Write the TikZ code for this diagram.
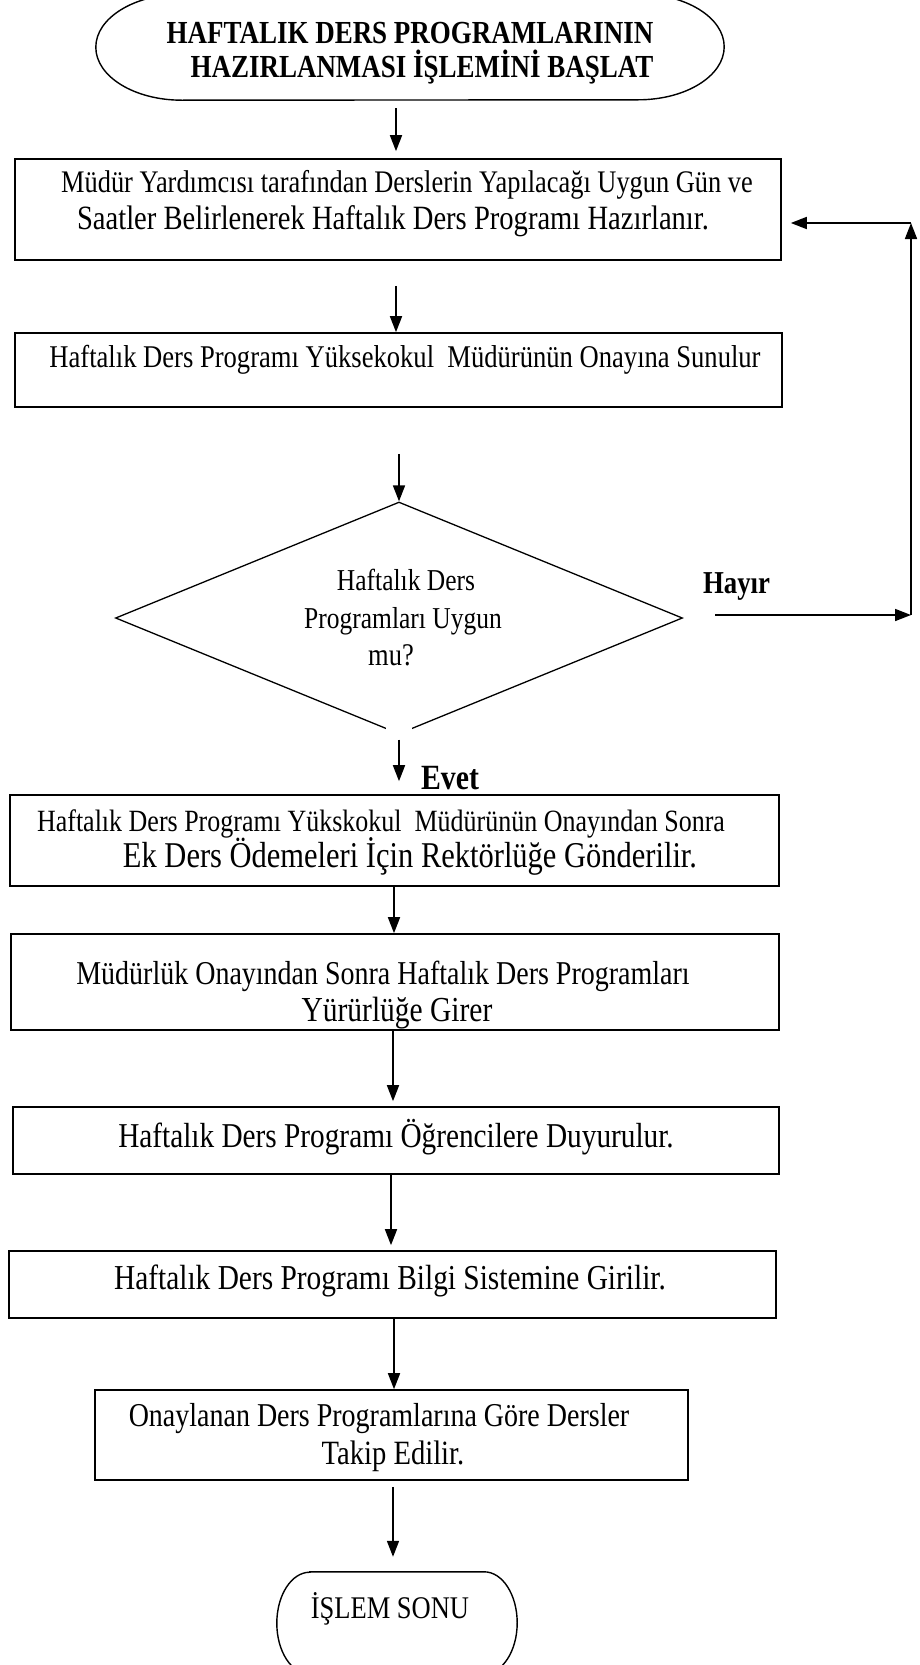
\documentclass[tikz,border=0pt]{standalone}
\usepackage{fontspec}
\setmainfont{Liberation Serif}[FakeStretch=0.84]
\usetikzlibrary{arrows.meta,shapes.geometric}
% type is set narrow and tall: size scaled up, width scaled back by FakeStretch
\newcommand\fsz[1]{\fontsize{\fpeval{#1*1.19}pt}{\fpeval{#1*1.19}pt}\selectfont}
% outline with straight top/bottom and elliptical end caps
\newcommand\capsule[3]{%
  \draw[capline] ([xshift=#2]#1.north west) -- ([xshift=-#2]#1.north east)
    arc[start angle=90,end angle=-90,x radius=#2,y radius=#3]
    -- ([xshift=#2]#1.south west)
    arc[start angle=270,end angle=90,x radius=#2,y radius=#3] -- cycle;}
\begin{document}
\begin{tikzpicture}[x=1pt,y=-1pt,
  box/.style={draw,rectangle,line width=1.6pt,inner sep=0pt},
  frame/.style={rectangle,inner sep=0pt},
  decision/.style={draw,diamond,line width=1.3pt,inner sep=0pt},
  capline/.style={line width=1.4pt},
  txt/.style={inner sep=0pt,anchor=base},
  arr/.style={line width=1.7pt,-{Triangle[length=16pt,width=12pt]}},
  link/.style={line width=1.7pt}]
\useasboundingbox (0,0) rectangle (920,1665);
\fill[white] (0,0) rectangle (920,1665);

% ---- shapes ----
\node[frame,minimum width=628pt,minimum height=106pt] (start) at (410,47) {};
\capsule{start}{86pt}{53pt}
\node[box,minimum width=766pt,minimum height=101pt] (b1) at (398,209.5) {};
\node[box,minimum width=767pt,minimum height=74pt]  (b2) at (398.5,370) {};
\node[decision,minimum width=567pt,minimum height=232pt] (dia) at (399,618) {};
\node[box,minimum width=769pt,minimum height=91pt]  (b3) at (394.5,840.5) {};
\node[box,minimum width=768pt,minimum height=96pt]  (b4) at (395,982) {};
\node[box,minimum width=766pt,minimum height=67pt]  (b5) at (396,1140.5) {};
\node[box,minimum width=767pt,minimum height=67pt]  (b6) at (392.5,1284.5) {};
\node[box,minimum width=593pt,minimum height=90pt]  (b7) at (391.5,1435) {};
\node[frame,minimum width=240pt,minimum height=102pt] (term) at (397,1623) {};
\capsule{term}{33pt}{51pt}

% ---- texts ----
\node[txt,font=\bfseries\fsz{27}] (s1) at (410,43) {HAFTALIK DERS PROGRAMLARININ};
\node[txt,font=\bfseries\fsz{27}] (s2) at (422,77) {HAZIRLANMASI İŞLEMİNİ BAŞLAT};
\node[txt,font=\fsz{26.4}] (t1a) at (407,192.5) {Müdür Yardımcısı tarafından Derslerin Yapılacağı Uygun Gün ve};
\node[txt,font=\fsz{28.6}] (t1b) at (393,229) {Saatler Belirlenerek Haftalık Ders Programı Hazırlanır.};
\node[txt,font=\fsz{26.6}] (t2) at (405,367.5) {Haftalık Ders Programı Yüksekokul\ \ Müdürünün Onayına Sunulur};
\node[txt,font=\fsz{25.5}] (q1) at (406,590) {Haftalık Ders};
\node[txt,font=\fsz{25.5}] (q2) at (403,628) {Programları Uygun};
\node[txt,font=\fsz{26.5}] (q3) at (391,665) {mu?};
\node[txt,font=\bfseries\fsz{26.8}] (no) at (736.5,593.5) {Hayır};
\node[txt,font=\bfseries\fsz{29.8}] (yes) at (450,789) {Evet};
\node[txt,font=\fsz{26}] (t3a) at (381,831) {Haftalık Ders Programı Yükskokul\ \ Müdürünün Onayından Sonra};
\node[txt,font=\fsz{30.5}] (t3b) at (410,867) {Ek Ders Ödemeleri İçin Rektörlüğe Gönderilir.};
\node[txt,font=\fsz{28}] (t4a) at (383,984) {Müdürlük Onayından Sonra Haftalık Ders Programları};
\node[txt,font=\fsz{29.5}] (t4b) at (397,1021.5) {Yürürlüğe Girer};
\node[txt,font=\fsz{29.3}] (t5) at (396,1147.5) {Haftalık Ders Programı Öğrencilere Duyurulur.};
\node[txt,font=\fsz{29.4}] (t6) at (390,1289.5) {Haftalık Ders Programı Bilgi Sistemine Girilir.};
\node[txt,font=\fsz{28}] (t7a) at (379,1426) {Onaylanan Ders Programlarına Göre Dersler};
\node[txt,font=\fsz{28.6}] (t7b) at (393,1464) {Takip Edilir.};
\node[txt,font=\fsz{26.5}] (t8) at (390,1618.5) {İŞLEM SONU};

% ---- axes of the vertical connectors ----
\coordinate (x1) at (396,0);
\coordinate (x2) at (399,0);
\coordinate (x3) at (394,0);
\coordinate (x4) at (393,0);
\coordinate (x5) at (391,0);
\coordinate (rb) at (911,615);
\coordinate (rt) at (911,223);

% ---- connectors ----
\draw[arr,shorten <=8pt,shorten >=7pt] (start.south -| x1) -- (b1.north -| x1);
\draw[arr,shorten <=25pt] (b1.south -| x1) -- (b2.north -| x1);
\draw[arr,shorten <=46pt] (b2.south -| x2) -- (dia.north -| x2);
\fill[white] (386,726) rectangle (412,742);
\draw[arr,shorten <=5pt,shorten >=13pt] (dia.south -| x2) -- (b3.north -| x2);
\draw[arr] (b3.south -| x3) -- (b4.north -| x3);
\draw[arr,shorten >=5pt] (b4.south -| x4) -- (b5.north -| x4);
\draw[arr,shorten >=5pt] (b5.south -| x5) -- (b6.north -| x5);
\draw[arr] (b6.south -| x3) -- (b7.north -| x3);
\draw[arr,shorten <=6pt,shorten >=15pt] (b7.south -| x4) -- (term.north -| x4);
% return path for a negative answer
\draw[arr,shorten <=32pt] (dia.east |- rb) -- (rb);
\draw[arr] (rb) -- (rt);
\draw[arr,shorten >=9pt] (rt) -- (rt -| b1.east);
\end{tikzpicture}
\end{document}
